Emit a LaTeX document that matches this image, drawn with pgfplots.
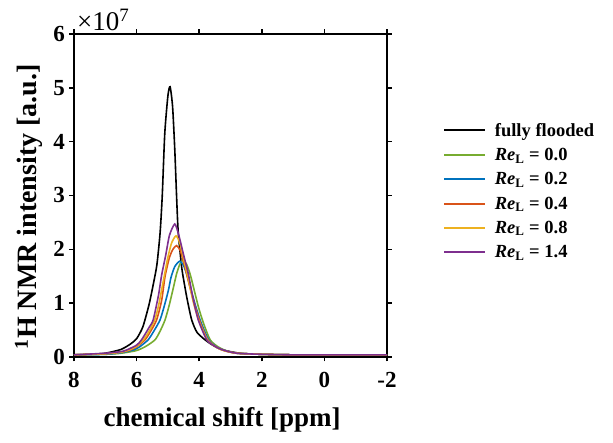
\documentclass[border=0pt]{standalone}
\usepackage{fontspec}
\setmainfont{Liberation Serif}
\usepackage{pgfplots}
\pgfplotsset{compat=1.18}
\definecolor{mgreen}{rgb}{0.466,0.674,0.188}
\definecolor{mblue}{rgb}{0,0.447,0.741}
\definecolor{morange}{rgb}{0.85,0.325,0.098}
\definecolor{myellow}{rgb}{0.929,0.694,0.125}
\definecolor{mpurple}{rgb}{0.494,0.184,0.556}
\begin{document}
\begin{tikzpicture}
\begin{axis}[
  scale only axis, width=313pt, height=323pt,
  xmin=-2, xmax=8, ymin=0, ymax=6,
  x dir=reverse,
  xtick={-2,0,2,4,6,8}, ytick={0,1,2,3,4,5,6},
  tick align=outside, major tick length=4.5pt,
  every tick/.style={black, line width=1.6pt},
  axis line style={line width=2.4pt},
  /pgf/number format/assume math mode=true,
  ticklabel style={font=\fontsize{23}{27}\selectfont\bfseries},
  xticklabel style={yshift=-7pt},
  yticklabel style={xshift=-1pt},
  xlabel={chemical shift [ppm]},
  ylabel={\textsuperscript{1}H NMR intensity [a.u.]},
  xlabel style={font=\fontsize{27}{32}\selectfont\bfseries, at={(axis description cs:0.473,-0.195)}, anchor=center},
  ylabel style={font=\fontsize{28}{33}\selectfont\bfseries, at={(axis description cs:-0.144,0.465)}, anchor=center},
  legend style={draw=none, fill=none, at={(axis description cs:1.169,0.737)}, anchor=north west,
    font=\fontsize{18.5}{22}\selectfont\bfseries, row sep=6.5pt, cells={anchor=west}},
  legend image code/.code={\draw[#1, line width=2pt] (0pt,0pt) -- (41pt,0pt); \path (48pt,0pt);},
  every axis plot/.append style={line width=1.6pt, smooth, tension=0.4},
  clip mode=individual,
]
\addplot[color=black] coordinates {
(8.0,0.04) (7.5,0.05) (7.0,0.07) (6.5,0.14) (6.2,0.24) (6.0,0.34) (5.8,0.56) (5.6,0.98) (5.45,1.40) (5.35,1.72) (5.25,2.30) (5.18,3.0) (5.1,4.15) (5.0,4.85) (4.93,5.02) (4.85,4.65) (4.78,3.85) (4.72,2.95) (4.67,2.32) (4.56,1.67) (4.45,1.28) (4.38,1.06) (4.24,0.69) (4.06,0.45) (3.7,0.27) (3.3,0.14) (2.7,0.07) (2.0,0.05) (1.0,0.04) (0,0.04) (-2,0.04)};
\addlegendentry{fully flooded}
\addplot[color=mgreen] coordinates {
(8.0,0.04) (7.0,0.05) (6.5,0.07) (6.0,0.12) (5.7,0.2) (5.41,0.32) (5.25,0.48) (5.09,0.69) (4.95,0.98) (4.82,1.3) (4.72,1.55) (4.62,1.72) (4.52,1.80) (4.40,1.72) (4.28,1.52) (4.15,1.22) (4.02,0.92) (3.87,0.64) (3.65,0.32) (3.4,0.19) (3.15,0.12) (2.8,0.07) (2,0.05) (1,0.04) (0,0.04) (-2,0.04)};
\addlegendentry{{\itshape Re}\textsubscript{L} = 0.0}
\addplot[color=mblue] coordinates {
(8.0,0.04) (7.0,0.05) (6.5,0.08) (6.1,0.13) (5.9,0.19) (5.63,0.32) (5.45,0.48) (5.25,0.69) (5.1,0.98) (4.98,1.25) (4.9,1.48) (4.78,1.68) (4.62,1.78) (4.50,1.70) (4.38,1.50) (4.25,1.22) (4.1,0.92) (3.94,0.64) (3.70,0.32) (3.45,0.19) (3.18,0.12) (2.8,0.07) (2,0.05) (1,0.04) (0,0.04) (-2,0.04)};
\addlegendentry{{\itshape Re}\textsubscript{L} = 0.2}
\addplot[color=morange] coordinates {
(8.0,0.04) (7.0,0.06) (6.5,0.09) (6.2,0.13) (6.0,0.19) (5.73,0.32) (5.55,0.48) (5.36,0.69) (5.2,1.05) (5.09,1.50) (4.95,1.85) (4.84,2.0) (4.72,2.07) (4.60,1.97) (4.46,1.68) (4.32,1.35) (4.15,0.98) (3.98,0.66) (3.74,0.33) (3.5,0.2) (3.2,0.12) (2.8,0.07) (2,0.05) (1,0.04) (0,0.04) (-2,0.04)};
\addlegendentry{{\itshape Re}\textsubscript{L} = 0.4}
\addplot[color=myellow] coordinates {
(8.0,0.04) (7.0,0.06) (6.5,0.09) (6.25,0.13) (6.0,0.2) (5.78,0.32) (5.6,0.48) (5.42,0.69) (5.3,0.95) (5.15,1.4) (5.0,1.85) (4.88,2.12) (4.74,2.25) (4.62,2.12) (4.48,1.78) (4.33,1.4) (4.18,1.0) (4.0,0.66) (3.74,0.32) (3.5,0.2) (3.22,0.12) (2.8,0.07) (2,0.05) (1,0.04) (0,0.04) (-2,0.04)};
\addlegendentry{{\itshape Re}\textsubscript{L} = 0.8}
\addplot[color=mpurple] coordinates {
(8.0,0.04) (7.0,0.07) (6.5,0.10) (6.32,0.13) (6.0,0.22) (5.84,0.32) (5.6,0.55) (5.47,0.69) (5.3,1.15) (5.2,1.52) (5.07,1.89) (4.95,2.26) (4.78,2.47) (4.65,2.26) (4.5,1.9) (4.35,1.55) (4.2,1.1) (4.03,0.69) (3.76,0.32) (3.5,0.2) (3.24,0.13) (2.8,0.07) (2.0,0.05) (1,0.04) (0,0.04) (-2,0.04)};
\addlegendentry{{\itshape Re}\textsubscript{L} = 1.4}
\end{axis}
\node[anchor=south west, inner sep=0pt] at (3pt,326pt) {\fontsize{27}{31}\selectfont ×10\textsuperscript{7}};
\pgfresetboundingbox
\path (-74pt,-86pt) rectangle (539pt,357pt);
\end{tikzpicture}
\end{document}
